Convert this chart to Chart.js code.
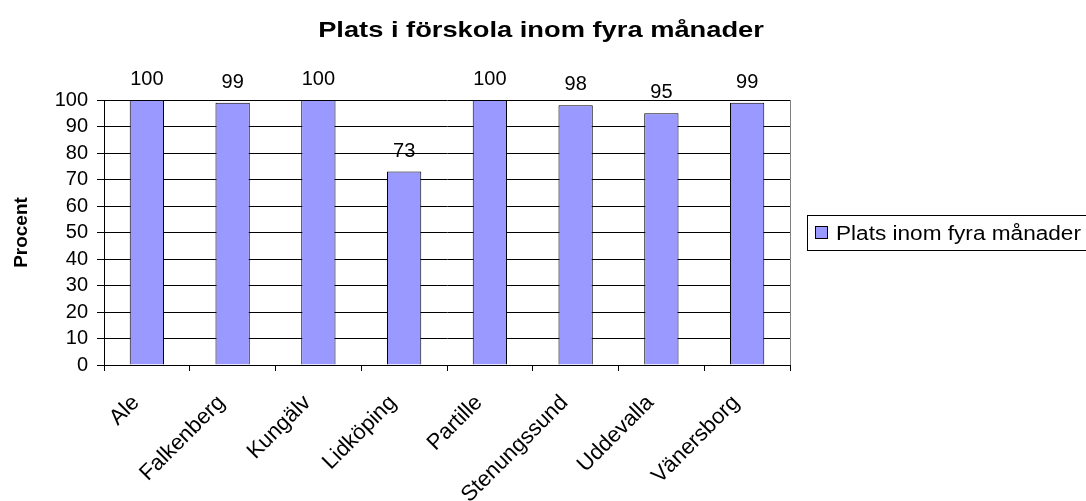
<!DOCTYPE html>
<html lang="sv">
<head>
    <meta charset="UTF-8">
    <title>Plats i förskola inom fyra månader</title>
    <script src="https://cdn.jsdelivr.net/npm/chart.js"></script>
    <style>
        body { margin: 0; padding: 0; background: #fff; }
        .wrap { width: 1086px; height: 501px; position: relative; }
    </style>
</head>
<body>
    <div class="wrap">
        <canvas id="chart"></canvas>
    </div>
    <script>
// data
const kommuner = ['Ale', 'Falkenberg', 'Kungälv', 'Lidköping', 'Partille', 'Stenungssund', 'Uddevalla', 'Vänersborg'];
const platsInomFyra = [100, 99, 100, 73, 100, 98, 95, 99];
const seriesName = 'Plats inom fyra månader';
const chartTitle = 'Plats i förskola inom fyra månader';
const yTicks = [0, 10, 20, 30, 40, 50, 60, 70, 80, 90, 100];

const FONT = 'Arial, "Liberation Sans", sans-serif';

// the source image is a bit wider than tall in its text, so stretch our own texts a little
function wideText(ctx, text, x, y, sx) {
    ctx.save();
    ctx.translate(x, y);
    ctx.scale(sx, 1);
    ctx.fillText(text, 0, 0);
    ctx.restore();
}

// title on top of the whole picture
const topTitle = {
    id: 'topTitle',
    afterDraw(chart) {
        const ctx = chart.ctx;
        ctx.save();
        ctx.font = 'bold 22px ' + FONT;
        ctx.fillStyle = '#000';
        ctx.textAlign = 'center';
        ctx.textBaseline = 'alphabetic';
        wideText(ctx, chartTitle, 541, 37, 1.24);
        ctx.restore();
    }
};

// value labels above each bar
const valueLabels = {
    id: 'valueLabels',
    afterDatasetsDraw(chart) {
        const ctx = chart.ctx;
        const meta = chart.getDatasetMeta(0);
        ctx.save();
        ctx.font = '20px ' + FONT;
        ctx.fillStyle = '#000';
        ctx.textAlign = 'center';
        ctx.textBaseline = 'alphabetic';
        meta.data.forEach((bar, i) => {
            ctx.fillText(String(chart.data.datasets[0].data[i]), bar.x, bar.y - 15);
        });
        ctx.restore();
    }
};

// plot area border + boxed legend on the right, Excel style
const boxLegend = {
    id: 'boxLegend',
    afterDraw(chart) {
        const ctx = chart.ctx;
        const a = chart.chartArea;
        ctx.save();
        ctx.strokeStyle = '#808080';
        ctx.lineWidth = 1;
        ctx.beginPath();
        ctx.moveTo(Math.round(a.right) + 0.5, a.top);
        ctx.lineTo(Math.round(a.right) + 0.5, a.bottom);
        ctx.stroke();

        const ds = chart.data.datasets[0];
        ctx.strokeStyle = '#000';
        ctx.strokeRect(807.5, 215.5, 300, 35);
        ctx.fillStyle = ds.backgroundColor;
        ctx.fillRect(816, 227, 11, 11);
        ctx.strokeRect(815.5, 226.5, 12, 12);
        ctx.fillStyle = '#000';
        ctx.font = '20px ' + FONT;
        ctx.textAlign = 'left';
        ctx.textBaseline = 'alphabetic';
        wideText(ctx, ds.label, 836, 240, 1.13);
        ctx.restore();
    }
};

new Chart(document.getElementById('chart'), {
    type: 'bar',
    data: {
        labels: kommuner,
        datasets: [{
            label: seriesName,
            data: platsInomFyra,
            backgroundColor: '#9999FF',
            borderColor: '#000',
            borderWidth: 1,
            barPercentage: 0.4,
            categoryPercentage: 1
        }]
    },
    options: {
        responsive: true,
        maintainAspectRatio: false,
        animation: false,
        layout: { padding: { left: 6, right: 296, top: 100, bottom: 0 } },
        plugins: {
            legend: { display: false },
            tooltip: { enabled: false },
            title: { display: false }
        },
        scales: {
            x: {
                grid: { drawOnChartArea: false, drawTicks: true, tickLength: 6, color: '#000', offset: true },
                border: { color: '#000' },
                ticks: {
                    color: '#000',
                    font: { family: FONT, size: 22 },
                    autoSkip: false,
                    maxRotation: 45,
                    minRotation: 45,
                    padding: 19,
                    labelOffset: -11
                },
                afterFit(scale) { scale.height = 136; }
            },
            y: {
                min: 0,
                max: 100,
                afterBuildTicks(scale) { scale.ticks = yTicks.map(v => ({ value: v })); },
                grid: { color: '#000', tickLength: 7 },
                border: { color: '#000' },
                ticks: {
                    color: '#000',
                    font: { family: FONT, size: 20 },
                    autoSkip: false,
                    padding: 9
                },
                title: {
                    display: true,
                    text: 'Procent',
                    color: '#000',
                    font: { family: FONT, size: 19, weight: 'bold' }
                },
                afterFit(scale) { scale.width = 98; }
            }
        }
    },
    plugins: [valueLabels, boxLegend, topTitle]
});
    </script>
</body>
</html>
